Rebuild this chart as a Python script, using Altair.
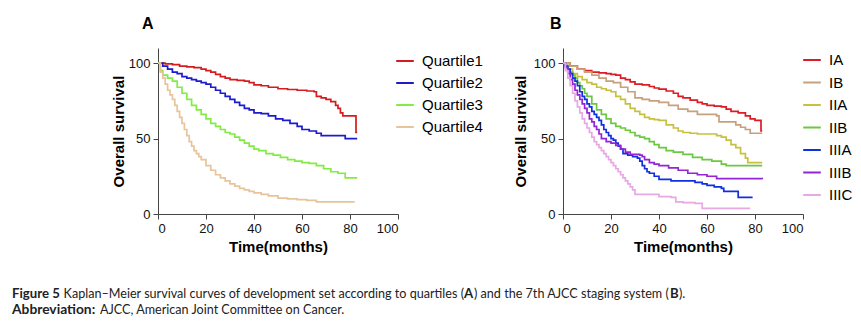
import altair as alt
import pandas as pd

# ---------------- Panel A: quartiles ----------------
quartile_labels = ["Quartile1", "Quartile2", "Quartile3", "Quartile4"]
quartile_colors = ["#d41c20", "#1c1ccc", "#82ec44", "#e8c49c"]

q1_t = [0, 3, 6, 9, 12, 15, 18, 20, 22, 24, 26, 28, 30, 33, 36, 38, 40, 43, 46, 50, 54, 58, 62, 65, 66, 68, 70, 72, 74, 75, 76, 77, 80, 82, 82.5, 83]
q1_s = [100, 99.5, 99, 98, 97.5, 97, 96, 95, 94, 92.5, 91, 90, 89, 88.5, 88, 87, 85.5, 85, 84, 83, 82.5, 82, 81.5, 81, 78, 77, 76, 74.5, 72, 70, 67, 65, 65, 65, 54, 54]

q2_t = [0, 2, 4, 6, 8, 10, 12, 14, 16, 18, 20, 22, 24, 26, 28, 30, 32, 34, 36, 38, 40, 43, 46, 49, 52, 55, 58, 60, 63, 66, 68, 70, 75, 78, 83]
q2_s = [100, 98, 96, 94, 93, 91, 90, 89, 88, 87, 86, 84, 82, 80, 78, 76, 74, 72, 70, 69, 67, 66.5, 65, 63, 62, 60, 58, 56, 55, 53.5, 52, 52, 52, 50, 50]

q3_t = [0, 1, 2, 4, 6, 8, 10, 12, 14, 16, 18, 20, 22, 24, 26, 28, 30, 32, 34, 36, 38, 40, 42, 45, 48, 51, 54, 57, 60, 63, 66, 69, 72, 75, 78, 83]
q3_s = [100, 95, 92, 90, 88, 84, 80, 76, 72, 69, 66, 63, 60, 58, 56, 54, 53, 51, 49, 47, 45, 43, 42, 40, 39, 37.5, 36, 35, 34, 33.5, 32, 30, 28, 27, 24, 24]

q4_t = [0, 1, 2, 3, 4, 5, 6, 7, 8, 9, 10, 11, 12, 13, 14, 15, 16, 17, 18, 20, 22, 24, 26, 28, 30, 32, 34, 36, 38, 40, 43, 46, 50, 54, 58, 62, 66, 82]
q4_s = [100, 94, 90, 86, 82, 79, 76, 72, 68, 64, 60, 56, 52, 48, 45, 42, 40, 38, 36, 32, 29, 26, 24, 22, 20, 18.5, 17, 16, 15, 14, 13, 12, 10.5, 10, 9.5, 9, 8, 8]

# ---------------- Panel B: 7th AJCC stages ----------------
stage_labels = ["IA", "IB", "IIA", "IIB", "IIIA", "IIIB", "IIIC"]
stage_colors = ["#dc1c24", "#c8a07c", "#c8c040", "#6cc840", "#1030e0", "#9424d4", "#e8a8e4"]

ia_t = [0, 3, 6, 9, 12, 15, 18, 20, 22, 24, 26, 28, 30, 33, 36, 38, 40, 43, 46, 48, 50, 53, 56, 58, 60, 63, 66, 68, 70, 73, 76, 78, 80, 82, 82.5, 83]
ia_s = [100, 98, 96, 95, 94, 93.5, 93, 92.5, 92, 90, 89, 87.5, 86, 85.5, 84.5, 83.5, 82.7, 81.5, 80, 78, 77, 75.5, 74, 73, 72, 71.5, 71, 69.5, 68, 67, 65, 63, 62, 62, 55, 55]

ib_t = [0, 3, 6, 9, 12, 15, 18, 21, 24, 27, 30, 33, 36, 40, 44, 48, 52, 56, 60, 64, 65, 68, 72, 74, 76, 78, 83]
ib_s = [100, 98, 96, 94, 92, 90, 88, 87, 84, 81, 77, 76, 75, 74, 72, 69.5, 68, 66, 66, 65, 61, 61, 59, 57.5, 56, 53.5, 53.5]

iia_t = [0, 2, 4, 6, 8, 10, 12, 14, 16, 18, 20, 22, 24, 26, 28, 30, 32, 34, 36, 38, 40, 43, 46, 48, 50, 53, 56, 60, 64, 66, 68, 70, 72, 74, 76, 77, 83]
iia_s = [100, 96, 93, 91, 89, 87, 86, 84, 83, 82, 81, 78, 76, 73, 70, 68, 66, 64, 63, 62.5, 62, 59, 57, 55, 54, 53.5, 53, 53, 52, 51, 49, 46, 44, 40, 37, 34, 34]

iib_t = [0, 1, 2, 3, 4, 5, 6, 7, 8, 9, 10, 12, 14, 16, 18, 20, 22, 24, 26, 28, 30, 32, 34, 36, 38, 40, 43, 46, 50, 54, 58, 62, 66, 68, 83]
iib_s = [100, 98, 96, 94, 92, 90, 87, 85, 83, 80, 78, 73, 69, 66, 63, 60, 58, 57, 55.5, 54, 52, 51, 50, 48, 46, 44, 42, 41, 39.5, 37.5, 36, 35, 33, 32, 32]

iiia_t = [0, 1, 2, 3, 4, 5, 6, 7, 8, 9, 10, 11, 12, 13, 14, 15, 16, 17, 18, 19, 20, 21, 22, 23, 24, 25, 27, 29, 31, 32, 33, 34, 35, 36, 38, 40, 45, 50, 55, 58, 60, 63, 66, 67, 70, 73, 79]
iiia_s = [100, 98, 96, 93, 90, 88, 85, 81, 78, 76, 73, 71, 68, 66, 64, 62, 59, 56, 54, 52, 50, 49, 47, 45, 43, 40, 39, 38, 37, 35, 32, 30, 28, 27, 25, 23, 22, 22, 21, 20, 19, 18, 17, 15, 15, 11, 11]

iiib_t = [0, 1, 2, 3, 4, 5, 6, 7, 8, 9, 10, 11, 12, 13, 14, 15, 16, 18, 20, 22, 24, 26, 28, 32, 33, 34, 36, 38, 40, 44, 48, 52, 56, 60, 64, 83]
iiib_s = [100, 97, 93, 89, 86, 82, 79, 76, 73, 70, 67, 63, 61, 58, 56, 53, 50, 48, 47, 45.5, 43, 41, 39.5, 39, 38, 36, 34, 33, 32, 30.5, 29, 27, 26, 25, 23.5, 23]

iiic_t = [0, 1, 2, 3, 4, 5, 6, 7, 8, 9, 10, 11, 12, 13, 14, 15, 16, 17, 18, 19, 20, 21, 22, 23, 24, 25, 26, 27, 28, 29, 30, 35, 40, 45, 47, 50, 55, 58, 78]
iiic_s = [100, 95, 90, 85, 80, 75, 71, 67, 63, 60, 57, 54, 51, 48, 46, 44, 42, 40, 38, 36, 34, 32, 30, 28, 26, 24, 22, 20, 18, 16, 13, 13, 11.5, 11, 8, 7.5, 7, 3.7, 3.7]

x_ticks = [0, 20, 40, 60, 80, 100]
y_ticks = [0, 50, 100]

# caption segments: (text, weight, alignment)
caption_line1 = [
    ("Figure 5", "bold", "left"),
    ("Kaplan\u2013Meier survival curves of development set according to quartiles (", "normal", "right"),
    ("A", "bold", "left"),
    (") and the 7th AJCC staging system (", "normal", "left"),
    ("B", "bold", "left"),
    (").", "normal", "left"),
]
caption_line2 = [
    ("Abbreviation:", "bold", "left"),
    ("AJCC, American Joint Committee on Cancer.", "normal", "left"),
]
caption1_x = [-146, 306, 306, 316, 512, 521]
caption2_x = [-146, -58]

FONT = "Liberation Sans"
CAP_FONT = "Lato"


def make_df(labels, series):
    rows = []
    for lab, (ts, ss) in zip(labels, series):
        for t, s in zip(ts, ss):
            rows.append({"group": lab, "time": t, "surv": s})
    return pd.DataFrame(rows)


df_a = make_df(quartile_labels, [(q1_t, q1_s), (q2_t, q2_s), (q3_t, q3_s), (q4_t, q4_s)])
df_b = make_df(stage_labels, [(ia_t, ia_s), (ib_t, ib_s), (iia_t, iia_s), (iib_t, iib_s),
                              (iiia_t, iiia_s), (iiib_t, iiib_s), (iiic_t, iiic_s)])


def panel(df, labels, colors, letter, title_dx, legend_x, legend_y, row_pad, ytitle_pad):
    x = alt.X("time:Q", scale=alt.Scale(domain=[0, 100], nice=False),
              axis=alt.Axis(values=x_ticks, title="Time(months)", grid=False,
                            labelFont=FONT, labelFontSize=13, labelColor="#111",
                            labelPadding=3, tickSize=5, tickColor="#444", domainColor="#444",
                            titleFont=FONT, titleFontSize=15, titleFontWeight="bold",
                            titleColor="black", titlePadding=4))
    y = alt.Y("surv:Q", scale=alt.Scale(domain=[0, 110], nice=False),
              axis=alt.Axis(values=y_ticks, title="Overall survival", grid=False,
                            labelFont=FONT, labelFontSize=13, labelColor="#111",
                            labelPadding=3, tickSize=5, tickColor="#444", domainColor="#444",
                            titleFont=FONT, titleFontSize=15, titleFontWeight="bold",
                            titleColor="black", titlePadding=ytitle_pad))
    color = alt.Color("group:N", scale=alt.Scale(domain=labels, range=colors),
                      legend=alt.Legend(orient="none", legendX=legend_x, legendY=legend_y,
                                        title=None, symbolType="stroke", symbolSize=310,
                                        symbolStrokeWidth=2, labelFont=FONT, labelFontSize=15,
                                        labelColor="black", labelOffset=7, rowPadding=row_pad,
                                        padding=0))
    lines = alt.Chart(df).mark_line(interpolate="step-after", strokeWidth=1.7).encode(
        x=x, y=y, color=color)
    return lines, alt.TitleParams(text=letter, anchor="start", frame="group", orient="top",
                                  offset=3, dx=title_dx, fontSize=16, font=FONT,
                                  fontWeight="bold", baseline="alphabetic", color="black")


lines_a, title_a = panel(df_a, quartile_labels, quartile_colors, "A", -16, 237, 3, 4, 2)
lines_b, title_b = panel(df_b, stage_labels, stage_colors, "B", -13, 239, 2, 4.5, 5)


def caption_layer(txt, wt, align, xv, yv, bold_size):
    return alt.Chart(pd.DataFrame({"text": [txt]})).mark_text(
        align=align, baseline="alphabetic", font=CAP_FONT,
        fontSize=bold_size if wt == "bold" else 12.6, fontWeight=wt, color="#222").encode(
        x=alt.value(xv), y=alt.value(yv), text="text:N")


caption_layers = []
for (txt, wt, al), xv in zip(caption_line1, caption1_x):
    caption_layers.append(caption_layer(txt, wt, al, xv, 250, 13.2))
for (txt, wt, al), xv in zip(caption_line2, caption2_x):
    caption_layers.append(caption_layer(txt, wt, al, xv, 266, 13.8))

panel_a = alt.layer(lines_a, *caption_layers).properties(width=240, height=166, title=title_a)
panel_b = alt.layer(lines_b).properties(width=240, height=166, title=title_b)

chart = alt.hconcat(panel_a, panel_b, spacing=165, bounds="flush").resolve_scale(
    color="independent").properties(
    padding={"left": 12, "top": 16, "right": 0, "bottom": 0},
    background="white").configure_view(stroke=None)

chart.save("out.html", embed_options={"renderer": "svg", "actions": False})
